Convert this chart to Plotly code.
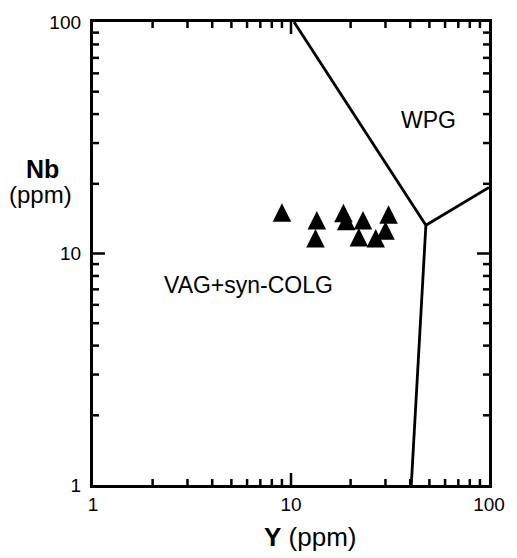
import math
import plotly.graph_objects as go

# Sample data (Y ppm, Nb ppm)
y_ppm = [9.0, 13.5, 13.3, 18.4, 19.0, 23.1, 22.0, 26.8, 31.1, 30.0]
nb_ppm = [14.6, 13.5, 11.3, 14.5, 13.4, 13.5, 11.4, 11.3, 14.3, 12.2]

# Field boundaries (Pearce et al. 1984 style)
wpg_vag_x = [10.36, 48.0]
wpg_vag_y = [100.0, 13.25]
wpg_org_x = [48.0, 100.0]
wpg_org_y = [13.25, 19.3]
vag_org_x = [48.0, 40.5]
vag_org_y = [13.25, 1.0]

field_names = ["WPG", "VAG+syn-COLG"]
field_x = [49.7, 6.1]
field_y = [37.7, 7.33]

tick_vals = [1, 10, 100]
tick_text = ["1", "10", "100"]
minor_vals = [2, 3, 4, 5, 6, 7, 8, 9, 20, 30, 40, 50, 60, 70, 80, 90]

FONT = "Liberation Sans, Arial, Helvetica, sans-serif"
NBSP = "\u00a0"
MAJOR_LEN = 12
MINOR_LEN = 6

fig = go.Figure()
for xs, ys in [(wpg_vag_x, wpg_vag_y), (wpg_org_x, wpg_org_y), (vag_org_x, vag_org_y)]:
    fig.add_trace(go.Scatter(x=xs, y=ys, mode="lines",
                             line=dict(color="black", width=2.8),
                             showlegend=False, hoverinfo="skip"))

fig.add_trace(go.Scatter(
    x=y_ppm, y=nb_ppm, mode="markers", showlegend=False,
    marker=dict(symbol="arrow-down", angle=180, standoff=12.3, size=18.5,
                color="black", line=dict(width=0))))

# annotations on log axes take log10 coordinates
for name, fx, fy in zip(field_names, field_x, field_y):
    fig.add_annotation(x=math.log10(fx), y=math.log10(fy), xref="x", yref="y",
                       text=name, showarrow=False,
                       font=dict(family=FONT, size=23, color="black"),
                       xanchor="center", yanchor="middle")

# inward tick marks on all four sides (pixel-length shapes at the tick values)
tick_line = dict(color="black", width=2.5)
for vals, ln in [(tick_vals[1:-1], MAJOR_LEN), (minor_vals, MINOR_LEN)]:
    for v in vals:
        # bottom and top
        fig.add_shape(type="line", xref="x", yref="paper", ysizemode="pixel",
                      yanchor=0, x0=v, x1=v, y0=0, y1=ln, line=tick_line)
        fig.add_shape(type="line", xref="x", yref="paper", ysizemode="pixel",
                      yanchor=1, x0=v, x1=v, y0=0, y1=-ln, line=tick_line)
        # left and right
        fig.add_shape(type="line", xref="paper", yref="y", xsizemode="pixel",
                      xanchor=0, y0=v, y1=v, x0=0, x1=ln, line=tick_line)
        fig.add_shape(type="line", xref="paper", yref="y", xsizemode="pixel",
                      xanchor=1, y0=v, y1=v, x0=0, x1=-ln, line=tick_line)

def major_axis(texts):
    return dict(
        type="log", range=[0, 2], tickmode="array", tickvals=tick_vals, ticktext=texts,
        showgrid=False, zeroline=False, showline=True, linecolor="black", linewidth=2.8,
        mirror=True, ticks="",
        tickfont=dict(family=FONT, size=19, color="black"),
    )

fig.update_layout(
    xaxis=major_axis(tick_text),
    yaxis=major_axis([t + NBSP for t in tick_text]),
)

# axis titles
fig.add_annotation(x=0.547, y=-0.113, xref="paper", yref="paper",
                   text="<b>Y</b> (ppm)", showarrow=False,
                   font=dict(family=FONT, size=26, color="black"),
                   xanchor="center", yanchor="middle")
fig.add_annotation(x=-0.127, y=0.683, xref="paper", yref="paper",
                   text="<b>Nb</b>", showarrow=False,
                   font=dict(family=FONT, size=25, color="black"),
                   xanchor="center", yanchor="middle")
fig.add_annotation(x=-0.132, y=0.627, xref="paper", yref="paper",
                   text="(ppm)", showarrow=False,
                   font=dict(family=FONT, size=24, color="black"),
                   xanchor="center", yanchor="middle")

fig.update_layout(
    width=517, height=558,
    margin=dict(l=93, r=22, t=18, b=73),
    paper_bgcolor="white", plot_bgcolor="white",
)

fig.write_html("out.html")
